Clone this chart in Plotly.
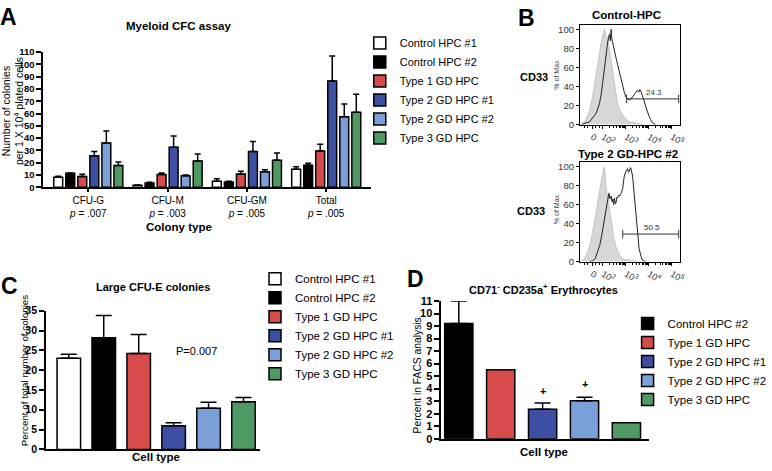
import plotly.graph_objects as go

# ---------------- data ----------------
cell_types = ["Control HPC #1", "Control HPC #2", "Type 1 GD HPC",
              "Type 2 GD HPC #1", "Type 2 GD HPC #2", "Type 3 GD HPC"]
bar_colors = ["#ffffff", "#000000", "#d84b4b", "#3d4fa2", "#7b9fd8", "#4f9a64"]

# Panel A: Myeloid CFC assay
colony_types = ["CFU-G", "CFU-M", "CFU-GM", "Total"]
p_values = [".007", ".003", ".005", ".005"]
a_ctrl1 = [8.2, 1.6, 4.8, 14.6]
a_ctrl2 = [11.4, 3.4, 4.2, 18.0]
a_type1 = [8.7, 10.3, 10.8, 29.6]
a_type2_1 = [25.7, 32.5, 29.1, 86.5]
a_type2_2 = [36.0, 9.3, 12.7, 57.4]
a_type3 = [17.7, 21.4, 22.0, 61.1]
a_ctrl1_err = [0.8, 0.3, 2.1, 2.1]
a_ctrl2_err = [0.3, 0.6, 0.6, 1.6]
a_type1_err = [1.9, 1.3, 2.2, 5.3]
a_type2_1_err = [3.4, 9.3, 8.2, 20.4]
a_type2_2_err = [9.8, 0.7, 1.6, 10.3]
a_type3_err = [2.9, 5.6, 5.8, 14.6]
a_means = [a_ctrl1, a_ctrl2, a_type1, a_type2_1, a_type2_2, a_type3]
a_errs = [a_ctrl1_err, a_ctrl2_err, a_type1_err, a_type2_1_err, a_type2_2_err, a_type3_err]

# Panel B: flow cytometry histograms (x in log-display units, y = % of max)
ctrl_iso_x = [1.07, 1.25, 1.43, 1.57, 1.71, 1.82, 1.93, 2.00, 2.07, 2.12, 2.21, 2.29, 2.36, 2.43, 2.50, 2.57, 2.64, 2.75, 2.86, 3.00, 3.15, 3.35, 3.57, 3.80]
ctrl_iso_y = [0, 5, 15, 32, 53, 72, 87, 95, 100, 94, 90, 78, 67, 55, 43, 31, 22, 15, 10, 6, 3, 2, 1, 0]
ctrl_cd33_x = [1.07, 1.43, 1.71, 1.85, 1.93, 2.00, 2.07, 2.14, 2.21, 2.26, 2.29, 2.32, 2.36, 2.39, 2.43, 2.50, 2.57, 2.64, 2.72, 2.79, 2.86, 2.93, 3.00, 3.08, 3.15, 3.22, 3.29, 3.36, 3.43, 3.50, 3.56, 3.60, 3.65, 3.72, 3.79, 3.86, 3.93, 4.00, 4.08, 4.15, 4.29]
ctrl_cd33_y = [0, 3, 12, 22, 32, 47, 63, 76, 87, 93, 95, 88, 100, 90, 85, 78, 70, 63, 56, 48, 41, 34, 29, 27, 26, 27, 29, 31, 34, 36, 34, 37, 35, 31, 25, 19, 13, 9, 5, 2, 0]
ctrl_gate_x = [3.03, 5.29]
ctrl_gate_y = [27, 27]
ctrl_gate_label = "24.3"

gd_iso_x = [1.07, 1.18, 1.29, 1.40, 1.50, 1.61, 1.71, 1.82, 1.93, 2.03, 2.07, 2.10, 2.14, 2.21, 2.29, 2.36, 2.43, 2.50, 2.57, 2.64, 2.72, 2.82, 2.93, 3.10, 3.29, 3.57]
gd_iso_y = [0, 3, 7.5, 15, 25, 38, 52, 70, 86, 98, 100, 90, 79, 68, 55, 42, 31, 22, 16, 11, 7.5, 4, 2.4, 1.5, 0.7, 0]
gd_cd33_x = [1.43, 1.57, 1.68, 1.79, 1.86, 1.93, 2.00, 2.07, 2.12, 2.17, 2.22, 2.26, 2.31, 2.36, 2.40, 2.43, 2.47, 2.50, 2.54, 2.57, 2.61, 2.64, 2.68, 2.72, 2.79, 2.86, 2.90, 2.93, 3.00, 3.07, 3.11, 3.15, 3.19, 3.22, 3.29, 3.36, 3.43, 3.50, 3.57, 3.65, 3.72, 3.86]
gd_cd33_y = [0, 0.7, 4, 11, 17, 25, 35, 45, 55, 62, 68, 72, 66, 69, 63, 66, 60, 67, 61, 62, 68, 67, 70, 69, 72, 77, 85, 90, 95, 98, 94, 95, 99, 98, 90, 72, 49, 28, 14, 6, 1.4, 0]
gd_gate_x = [2.86, 5.29]
gd_gate_y = [29, 29]
gd_gate_label = "50.5"

b_tickvals = [1.54, 2, 3, 4, 5]
b_ticktext = ["0", "10<sup>2</sup>", "10<sup>3</sup>", "10<sup>4</sup>", "10<sup>5</sup>"]

# Panel C: Large CFU-E colonies
c_types = cell_types
c_values = [23.0, 28.2, 24.2, 6.0, 10.4, 12.0]
c_errs = [1.0, 5.6, 4.8, 0.7, 1.5, 1.1]
c_colors = bar_colors
c_pvalue = "P=0.007"

# Panel D: CD71- CD235a+ erythrocytes
d_types = cell_types[1:]
d_values = [9.2, 5.5, 2.35, 3.04, 1.27]
d_errs = [1.8, None, 0.5, 0.28, None]
d_colors = bar_colors[1:]
d_plus_types = ["Type 2 GD HPC #1", "Type 2 GD HPC #2"]
d_plus_y = [3.2, 3.7]

# ---------------- helpers for layout placement ----------------
W, H = 772, 471
FONT = "Arial, 'Liberation Sans', Helvetica, sans-serif"


def px(x):
    return x / W


def py(y):
    return 1 - y / H


fig = go.Figure()

# Panel A bars
for name, col, vals, errs in zip(cell_types, bar_colors, a_means, a_errs):
    fig.add_trace(go.Bar(
        x=colony_types, y=vals, name=name, legend="legend",
        marker=dict(color=col, line=dict(color="black", width=1.5)),
        error_y=dict(type="data", symmetric=False, array=errs, arrayminus=[0] * len(errs),
                     color="black", thickness=1.5, width=3),
        xaxis="x", yaxis="y"))

# Panel B histograms
for xs, ys, ax, ay in [(ctrl_iso_x, ctrl_iso_y, "x2", "y2"), (gd_iso_x, gd_iso_y, "x3", "y3")]:
    fig.add_trace(go.Scatter(x=xs, y=ys, mode="lines", fill="tozeroy", fillcolor="#d7d7d7",
                             line=dict(color="#bdbdbd", width=0.8), showlegend=False,
                             xaxis=ax, yaxis=ay))
for xs, ys, ax, ay in [(ctrl_cd33_x, ctrl_cd33_y, "x2", "y2"), (gd_cd33_x, gd_cd33_y, "x3", "y3")]:
    fig.add_trace(go.Scatter(x=xs, y=ys, mode="lines", line=dict(color="#222222", width=1),
                             showlegend=False, xaxis=ax, yaxis=ay))
for gx, gy, lab, ax, ay in [(ctrl_gate_x, ctrl_gate_y, ctrl_gate_label, "x2", "y2"),
                            (gd_gate_x, gd_gate_y, gd_gate_label, "x3", "y3")]:
    fig.add_trace(go.Scatter(x=gx, y=gy, mode="lines+markers",
                             line=dict(color="#333333", width=1),
                             marker=dict(symbol="line-ns", size=6, line=dict(color="#333333", width=1)),
                             showlegend=False, xaxis=ax, yaxis=ay))
    fig.add_annotation(x=(gx[0] + gx[1]) / 2 + 0.05, y=gy[0], xref=ax, yref=ay, text=lab,
                       showarrow=False, yanchor="bottom", yshift=0,
                       font=dict(size=8, color="#333333", family=FONT))

# Panel C bars
for name, val, err, col in zip(c_types, c_values, c_errs, c_colors):
    fig.add_trace(go.Bar(
        x=[name], y=[val], name=name, legend="legend2", offsetgroup="c",
        marker=dict(color=col, line=dict(color="black", width=1.5)),
        error_y=dict(type="data", symmetric=False, array=[err], arrayminus=[0],
                     color="black", thickness=1.5, width=8),
        xaxis="x4", yaxis="y4"))

# Panel D bars
for name, val, err, col in zip(d_types, d_values, d_errs, d_colors):
    ey = dict(type="data", symmetric=False, array=[err], arrayminus=[0],
              color="black", thickness=1.5, width=8) if err is not None else dict(visible=False)
    fig.add_trace(go.Bar(
        x=[name], y=[val], name=name, legend="legend3", offsetgroup="d",
        marker=dict(color=col, line=dict(color="black", width=1.5)),
        error_y=ey, xaxis="x5", yaxis="y5"))
for t, yv in zip(d_plus_types, d_plus_y):
    fig.add_annotation(x=t, y=yv, xref="x5", yref="y5", text="<b>+</b>", showarrow=False,
                       yanchor="bottom", font=dict(size=11, color="black", family=FONT))

# ---------------- axes ----------------
bar_y_common = dict(showline=True, linecolor="black", linewidth=2, ticks="outside",
                    ticklen=5, tickwidth=1.5, tickcolor="black", showgrid=False,
                    zeroline=False)
bar_x_common = dict(showline=True, linecolor="black", linewidth=2, showgrid=False,
                    zeroline=False)

flow_x_common = dict(showline=True, mirror=True, linecolor="black", linewidth=1, showgrid=False,
                     zeroline=False, range=[1.0, 5.36], tickmode="array", tickvals=b_tickvals,
                     ticktext=b_ticktext, ticks="outside", ticklen=3, tickcolor="black",
                     tickfont=dict(size=9, color="#333333", family=FONT),
                     minor=dict(ticks="outside", ticklen=2, tickcolor="black",
                                tickvals=[1.2, 1.35, 1.7, 1.85, 2.3, 2.48, 2.6, 2.7, 2.78, 2.85, 2.9, 2.95,
                                          3.3, 3.48, 3.6, 3.7, 3.78, 3.85, 3.9, 3.95,
                                          4.3, 4.48, 4.6, 4.7, 4.78, 4.85, 4.9, 4.95]))
flow_y_common = dict(showline=True, mirror=True, linecolor="black", linewidth=1, showgrid=False,
                     zeroline=False, range=[0, 104.5], tickvals=[0, 20, 40, 60, 80, 100],
                     ticks="outside", ticklen=3, tickcolor="black",
                     tickfont=dict(size=9.5, color="#333333", family=FONT))

fig.update_layout(
    width=W, height=H, margin=dict(l=0, r=0, t=0, b=0),
    paper_bgcolor="white", plot_bgcolor="rgba(0,0,0,0)",
    font=dict(family=FONT, color="black"),
    barmode="group", bargap=0.09, bargroupgap=0.26,
    xaxis=dict(domain=[px(44), px(375)], range=[-0.565, 3.56], tickmode="array",
               tickvals=colony_types,
               ticktext=[f"{g}<br><i>p</i> = {p}" for g, p in zip(colony_types, p_values)],
               ticks="outside", ticklen=3, tickwidth=1.5, tickcolor="black",
               tickfont=dict(size=10, family=FONT), **bar_x_common),
    yaxis=dict(domain=[py(186), py(47.3)], range=[0, 110], dtick=10,
               tickfont=dict(size=9.5, weight="bold", family=FONT), **bar_y_common),
    xaxis2=dict(domain=[px(586.7), px(688.3)], anchor="y2", **flow_x_common),
    yaxis2=dict(domain=[py(121.7), py(19.6)], anchor="x2", **flow_y_common),
    xaxis3=dict(domain=[px(586.7), px(688.3)], anchor="y3", **flow_x_common),
    yaxis3=dict(domain=[py(262.3), py(160.5)], anchor="x3", **flow_y_common),
    xaxis4=dict(domain=[px(46.7), px(263)], range=[-0.648, 5.47], anchor="y4",
                showticklabels=False, **bar_x_common),
    yaxis4=dict(domain=[py(455), py(312.7)], range=[0, 35], dtick=5, anchor="x4",
                tickfont=dict(size=10.5, weight="bold", family=FONT), **bar_y_common),
    xaxis5=dict(domain=[px(446.7), px(656.7)], range=[-0.413, 4.54], anchor="y5",
                showticklabels=False, **bar_x_common),
    yaxis5=dict(domain=[py(444), py(302.7)], range=[0, 11], dtick=1, anchor="x5",
                tickfont=dict(size=11, weight="bold", family=FONT), **bar_y_common),
    legend=dict(x=px(364), y=py(23), xanchor="left", yanchor="top",
                bgcolor="rgba(0,0,0,0)", font=dict(size=11, family=FONT), tracegroupgap=0),
    legend2=dict(x=px(258), y=py(265), xanchor="left", yanchor="top",
                 bgcolor="rgba(0,0,0,0)", font=dict(size=11.5, family=FONT), tracegroupgap=0),
    legend3=dict(x=px(635), y=py(311), xanchor="left", yanchor="top",
                 bgcolor="rgba(0,0,0,0)", font=dict(size=11.5, family=FONT), tracegroupgap=0),
)

# ---------------- text annotations (titles, panel letters, axis titles) ----------------
texts = [
    ("<b>A</b>", 9, 11, 23, 0),
    ("<b>B</b>", 533, 12, 23, 0),
    ("<b>C</b>", 10, 287, 23, 0),
    ("<b>D</b>", 420, 280, 23, 0),
    ("<b>Myeloid CFC assay</b>", 181, 21, 11.5, 0),
    ("<b>Colony type</b>", 181, 227, 11.5, 0),
    ("Number of colonies<br>per 1 X 10<sup>4</sup> plated cells", 13, 108, 10.5, -90),
    ("<b>Control-HPC</b>", 634, 9.5, 11.5, 0),
    ("<b>Type 2 GD-HPC #2</b>", 635, 151.5, 11.5, 0),
    ("<b>CD33</b>", 540, 73, 11, 0),
    ("<b>CD33</b>", 537, 210, 11, 0),
    ("% of Max", 563, 70, 7, -90),
    ("% of Max", 563, 208, 7, -90),
    ("<b>Large CFU-E colonies</b>", 155, 288, 11, 0),
    ("Percent of total number of colonies", 25, 374, 9.8, -90),
    ("<b>Cell type</b>", 158, 463, 11.5, 0),
    (c_pvalue, 199, 354, 11, 0),
    ("<b>CD71<sup>-</sup> CD235a<sup>+</sup> Erythrocytes</b>", 550, 290, 11, 0),
    ("Percent in FACS analysis", 422, 379, 10.3, -90),
    ("<b>Cell type</b>", 550, 458, 11.5, 0),
]
for txt, x, y, size, ang in texts:
    fig.add_annotation(x=px(x), y=py(y), xref="paper", yref="paper", text=txt,
                       showarrow=False, xanchor="center", yanchor="middle", textangle=ang,
                       font=dict(size=size, family=FONT,
                                 color="#444444" if "Max" in txt else "black"))

fig.write_html("out.html", config={"displayModeBar": False},
               post_script="document.body.style.margin='0';document.body.style.overflow='hidden';")
